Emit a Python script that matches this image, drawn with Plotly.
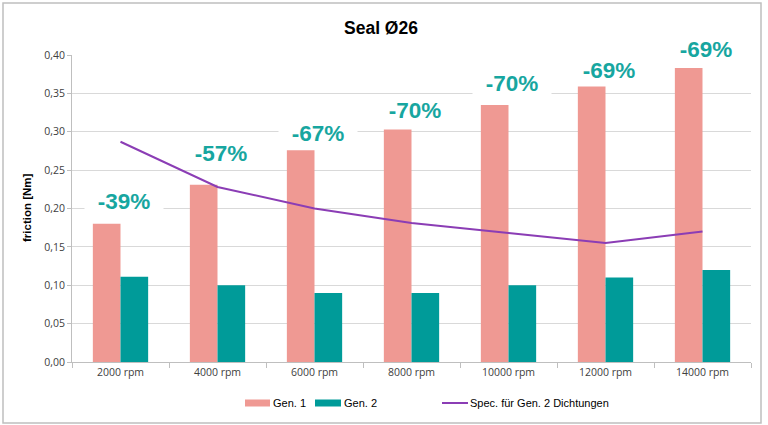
import plotly.graph_objects as go

# ---- data ----
categories = ["2000 rpm", "4000 rpm", "6000 rpm", "8000 rpm", "10000 rpm", "12000 rpm", "14000 rpm"]
gen1 = [0.180, 0.231, 0.276, 0.303, 0.335, 0.359, 0.383]
gen2 = [0.111, 0.100, 0.090, 0.090, 0.100, 0.110, 0.120]
spec = [0.287, 0.228, 0.200, 0.181, 0.168, 0.155, 0.170]
reduction_labels = ["-39%", "-57%", "-67%", "-70%", "-70%", "-69%", "-69%"]
y_ticks = [0.00, 0.05, 0.10, 0.15, 0.20, 0.25, 0.30, 0.35, 0.40]

# ---- styling ----
W, H = 768, 425
ML, MR, MT, MB = 72, 17, 55, 63
PW, PH = W - ML - MR, H - MT - MB
label_shift_px = [22, 31, 17, 19, 21, 16, 19]

PINK = "#EF9993"
TEAL = "#009B99"
LABEL_TEAL = "#17A6A0"
PURPLE = "#8B3DB5"
GRID = "#D9D9D9"
AXIS = "#BFBFBF"
TXT = "#404040"


def px_x(px):
    return (px - ML) / PW


def px_y(py):
    return (H - MB - py) / PH


fig = go.Figure()
fig.add_trace(go.Bar(x=categories, y=gen1, name="Gen. 1", marker=dict(color=PINK, line=dict(width=0)),
                     showlegend=False))
fig.add_trace(go.Bar(x=categories, y=gen2, name="Gen. 2", marker=dict(color=TEAL, line=dict(width=0)),
                     showlegend=False))
fig.add_trace(go.Scatter(x=categories, y=spec, name="Spec. für Gen. 2 Dichtungen", mode="lines",
                         line=dict(color=PURPLE, width=2), showlegend=False))

annotations = []
for cat, val, lab, sh in zip(categories, gen1, reduction_labels, label_shift_px):
    annotations.append(dict(
        x=cat, y=val, xref="x", yref="y", text="<b>" + lab + "</b>", showarrow=False,
        yanchor="middle", xanchor="center", yshift=sh, xshift=3,
        font=dict(family="Liberation Sans, Arial, sans-serif", size=22.5, color=LABEL_TEAL),
        bgcolor="white", width=76, borderpad=1,
    ))

# y axis title
annotations.append(dict(
    x=px_x(27), y=px_y(208), xref="paper", yref="paper", text="<b>friction [Nm]</b>",
    textangle=-90, showarrow=False, xanchor="center", yanchor="middle",
    font=dict(family="Liberation Sans, Arial, sans-serif", size=11.5, color="#000000"),
))

# title
annotations.append(dict(
    x=px_x(381), y=px_y(28), xref="paper", yref="paper", text="<b>Seal Ø26</b>",
    showarrow=False, xanchor="center", yanchor="middle",
    font=dict(family="Liberation Sans, Arial, sans-serif", size=17.5, color="#000000"),
))

# manual legend
legend_font = dict(family="Liberation Sans, Arial, sans-serif", size=11, color="#000000")
shapes = [
    # outer frame
    dict(type="rect", xref="paper", yref="paper", x0=px_x(3), x1=px_x(761), y0=px_y(3), y1=px_y(423),
         line=dict(color=AXIS, width=1.5), fillcolor="rgba(0,0,0,0)", layer="below"),
    dict(type="rect", xref="paper", yref="paper", x0=px_x(245), x1=px_x(270), y0=px_y(399.5), y1=px_y(406.5),
         line=dict(width=0), fillcolor=PINK),
    dict(type="rect", xref="paper", yref="paper", x0=px_x(315), x1=px_x(341), y0=px_y(399.5), y1=px_y(406.5),
         line=dict(width=0), fillcolor=TEAL),
    dict(type="line", xref="paper", yref="paper", x0=px_x(442), x1=px_x(468), y0=px_y(403), y1=px_y(403),
         line=dict(color=PURPLE, width=2)),
]
for txt, xp in [("Gen. 1", 271), ("Gen. 2", 342), ("Spec. für Gen. 2 Dichtungen", 468)]:
    annotations.append(dict(x=px_x(xp), y=px_y(403), xref="paper", yref="paper", text=txt,
                            showarrow=False, xanchor="left", yanchor="middle", font=legend_font))

fig.update_layout(
    width=W, height=H,
    margin=dict(l=ML, r=MR, t=MT, b=MB, pad=0),
    paper_bgcolor="white", plot_bgcolor="white",
    barmode="group", bargap=0.43, bargroupgap=0.0,
    separators=",.",
    showlegend=False,
    annotations=annotations,
    shapes=shapes,
    xaxis=dict(
        type="category", showgrid=False, showline=True, linecolor=AXIS, linewidth=1,
        ticks="outside", tickson="boundaries", ticklen=5, tickcolor=AXIS,
        tickfont=dict(family="Open Sans, sans-serif", size=10.5, color=TXT),
        fixedrange=True,
    ),
    yaxis=dict(
        range=[0, 0.40], tickvals=y_ticks, tickformat=".2f",
        showgrid=True, gridcolor=GRID, gridwidth=1, zeroline=False,
        showline=True, linecolor=AXIS, linewidth=1,
        ticks="outside", ticklen=4, tickcolor=AXIS,
        tickfont=dict(family="Open Sans, sans-serif", size=10.5, color=TXT),
        fixedrange=True,
    ),
)

fig.write_html("out.html", config={"displayModeBar": False})
